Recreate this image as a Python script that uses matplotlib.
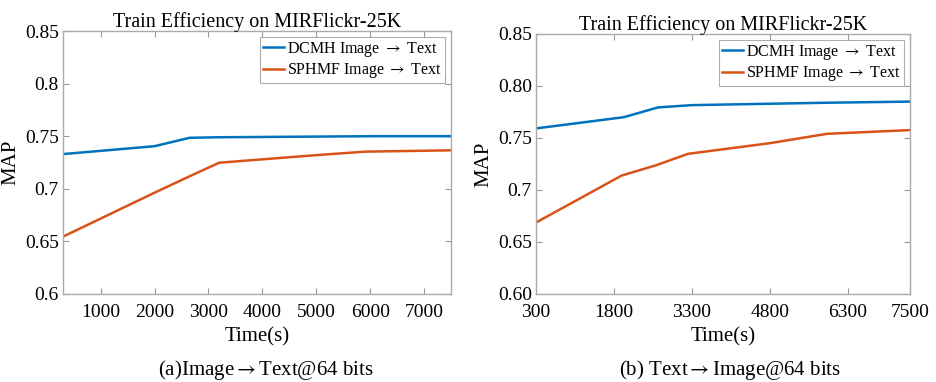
import matplotlib
matplotlib.use('Agg')
import matplotlib.pyplot as plt

plt.rcParams['font.family'] = ['Liberation Serif', 'DejaVu Serif']
plt.rcParams['mathtext.fontset'] = 'stix'
plt.rcParams['xtick.direction'] = 'in'
plt.rcParams['ytick.direction'] = 'in'

# (a) Image -> Text
time_a = [300, 2000, 2650, 3200, 6000, 7500]
dcmh_a = [0.733, 0.7405, 0.7485, 0.749, 0.750, 0.750]
time_a2 = [300, 2000, 2700, 3200, 4000, 5000, 5900, 7500]
sphmf_a = [0.6545, 0.6963, 0.7131, 0.7248, 0.728, 0.732, 0.7353, 0.7366]

# (b) Text -> Image
time_b = [300, 1990, 2650, 3300, 5900, 7500]
dcmh_b = [0.7592, 0.770, 0.7794, 0.7816, 0.7839, 0.785]
time_b2 = [300, 1950, 2600, 3230, 4800, 5900, 7500]
sphmf_b = [0.6687, 0.7139, 0.7236, 0.7348, 0.745, 0.754, 0.7576]

yticks = [0.60, 0.65, 0.70, 0.75, 0.80, 0.85]
ylabels_a = ['0.6', '0.65', '0.7', '0.75', '0.8', '0.85']
ylabels_b = ['0.60', '0.65', '0.7', '0.75', '0.80', '0.85']
xticks_a = [1000, 2000, 3000, 4000, 5000, 6000, 7000]
xticks_b = [300, 1800, 3300, 4800, 6300, 7500]

blue = '#0072BD'
orange = '#D95319'
arrow = r'$\rightarrow$'

fig = plt.figure(figsize=(9.37, 3.82), dpi=100)
ax1 = fig.add_axes([0.0672, 0.2304, 0.4141, 0.6884])
ax2 = fig.add_axes([0.572, 0.2304, 0.3992, 0.6806])

panels = [
    (ax1, time_a, dcmh_a, time_a2, sphmf_a, xticks_a, ylabels_a, '(a)Image' + arrow + 'Text@64 bits', 0.284),
    (ax2, time_b, dcmh_b, time_b2, sphmf_b, xticks_b, ylabels_b, '(b) Text' + arrow + 'Image@64 bits', 0.779),
]

for ax, xd, yd, xs, ys, xt, yl, cap, capx in panels:
    ax.plot(xd, yd, color=blue, lw=1.8, label='DCMH Image ' + arrow + ' Text')
    ax.plot(xs, ys, color=orange, lw=1.8, label='SPHMF Image ' + arrow + ' Text')
    ax.set_xlim(300, 7500)
    ax.set_ylim(0.6, 0.85)
    ax.set_xticks(xt)
    ax.set_yticks(yticks)
    ax.set_yticklabels(yl)
    ax.tick_params(labelsize=14, top=True, right=True, length=4, color='#999999', width=0.8)
    ax.tick_params(axis='x', pad=7)
    ax.tick_params(axis='y', pad=3)
    for s in ax.spines.values():
        s.set_color('#aaaaaa')
        s.set_linewidth(1.0)
    ax.set_title('Train Efficiency on MIRFlickr-25K', fontsize=14.5, pad=3)
    ax.set_xlabel('Time(s)', fontsize=15, labelpad=5)
    ax.set_ylabel('MAP', fontsize=15, labelpad=3)
    leg = ax.legend(loc='upper right', fontsize=11.5, frameon=True, fancybox=False,
                    borderpad=0.2, labelspacing=0.15, handlelength=1.3,
                    handletextpad=0.2, borderaxespad=0.35)
    leg.get_frame().set_edgecolor('#999999')
    leg.get_frame().set_linewidth(0.8)
    fig.text(capx, 0.031, cap, ha='center', va='center', fontsize=15)

fig.savefig('out.png', dpi=100)
